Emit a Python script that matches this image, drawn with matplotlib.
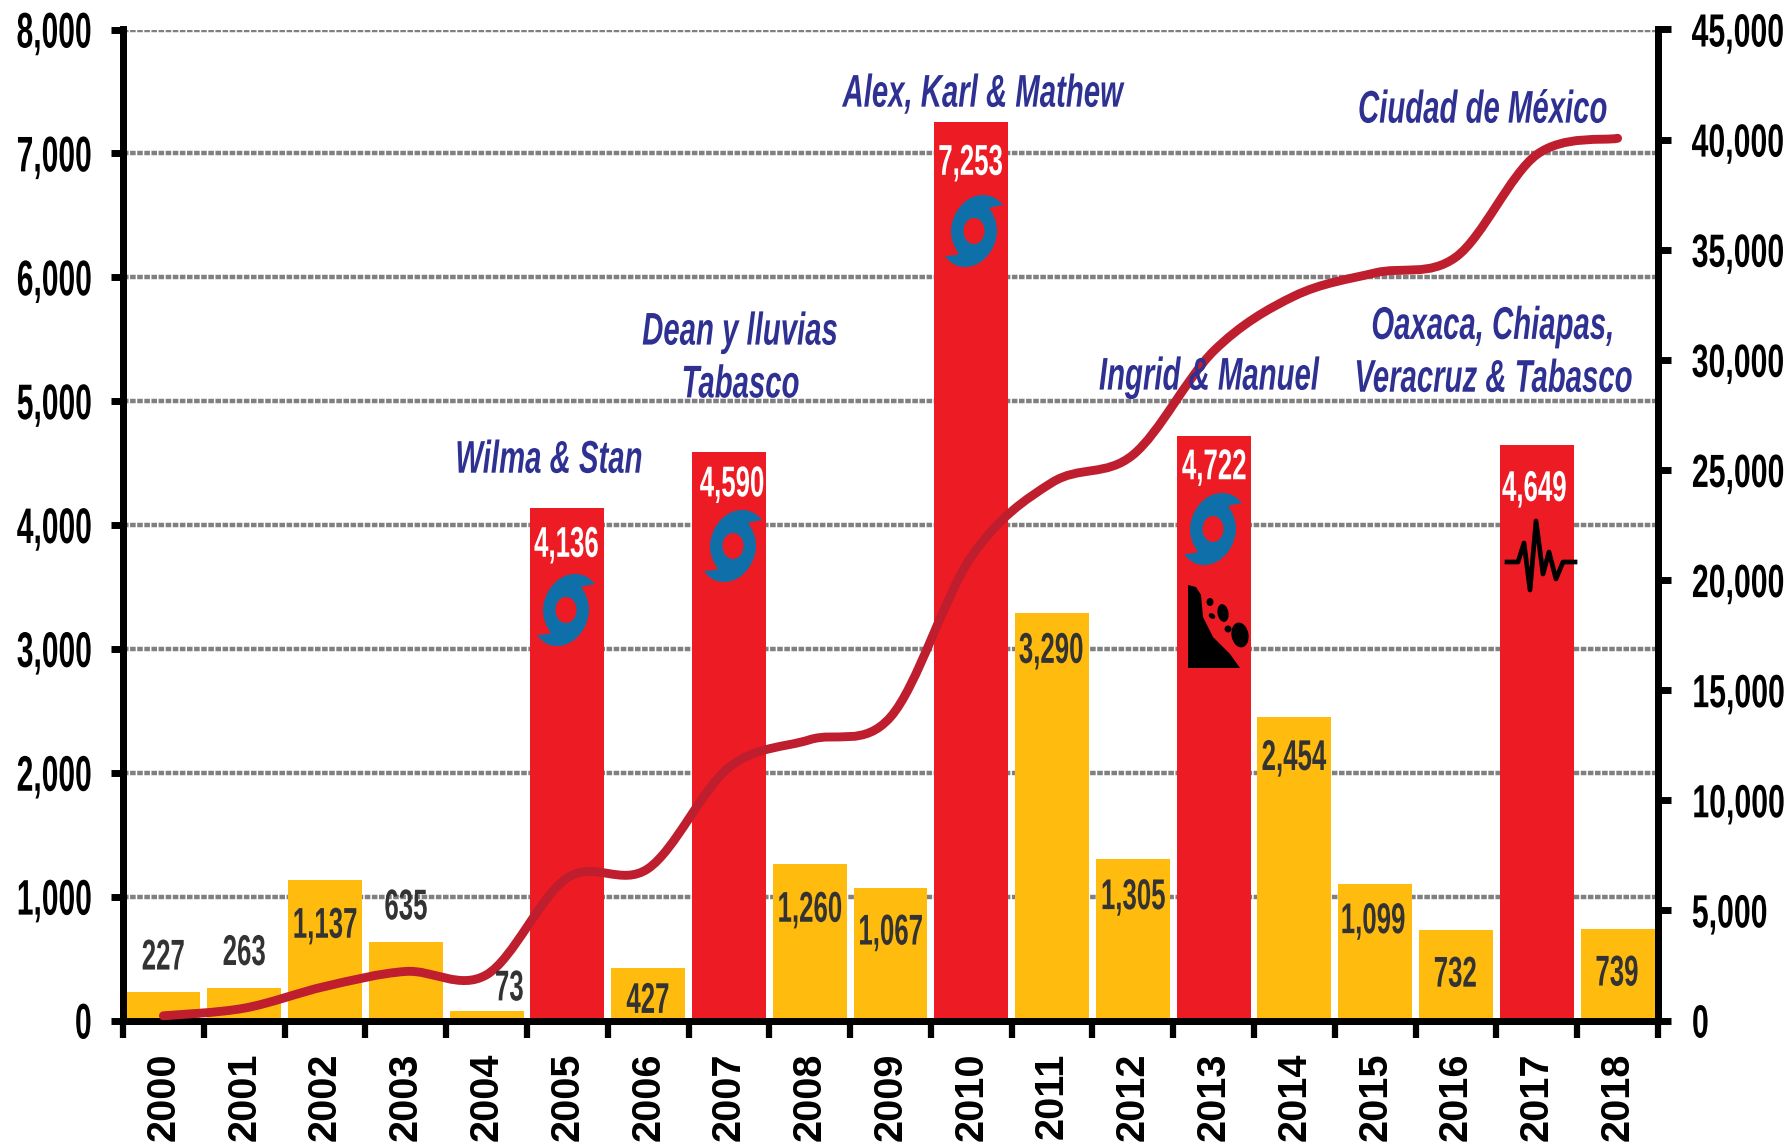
import numpy as np
import matplotlib
matplotlib.use('Agg')
import matplotlib.pyplot as plt
from matplotlib.patches import Ellipse, PathPatch, Polygon
from matplotlib.path import Path
from matplotlib.patheffects import AbstractPathEffect
from matplotlib.transforms import Affine2D

years = list(range(2000, 2019))
damages = [227, 263, 1137, 635, 73, 4136, 427, 4590, 1260, 1067, 7253, 3290, 1305, 4722, 2454, 1099, 732, 4649, 739]
cumulative = [213, 560, 1546, 2228, 2078, 6480, 6900, 11490, 12750, 13780, 21060, 24430, 25680, 30400, 32900, 33950, 34670, 39320, 40060]
big_years = [2005, 2007, 2010, 2013, 2017]

# where the value labels sit (bar index, left axis units)
label_x = [0, 1, 2, 3, 4.28, 4.99, 6, 7.04, 8, 9, 9.99, 10.99, 12, 13.01, 13.99, 14.97, 15.99, 16.97, 17.99]
label_y = [500, 537, 757, 905, 251, 3832, 150, 4320, 886, 702, 6916, 2976, 988, 4458, 2111, 794, 362, 4283, 371]

events = ['Wilma & Stan', 'Dean y lluvias\nTabasco', 'Alex, Karl & Mathew', 'Ingrid & Manuel',
          'Ciudad de México', 'Oaxaca, Chiapas,\nVeracruz & Tabasco']
event_x = [4.77, 7.14, 10.14, 12.94, 16.33, 16.46]
event_y = [4519, 5340, 7474, 5190, 7345, 5386]

left_ticks = [0, 1000, 2000, 3000, 4000, 5000, 6000, 7000, 8000]
right_ticks = [0, 5000, 10000, 15000, 20000, 25000, 30000, 35000, 40000, 45000]

GOLD = '#FFBC0F'
RED = '#ED1C24'
LINE = '#BE1E2D'
NAVY = '#2E3192'
BLUE = '#0F6FA8'


class Squeeze(AbstractPathEffect):
    # the original lettering is much narrower than any installed font
    def __init__(self, sx, anchor='center'):
        super().__init__()
        self.sx = sx
        self.anchor = anchor

    def draw_path(self, renderer, gc, tpath, affine, rgbFace=None):
        box = tpath.get_extents()
        x0 = {'left': box.x0, 'center': (box.x0 + box.x1) / 2, 'right': box.x1}[self.anchor]
        squeeze = Affine2D().translate(-x0, 0).scale(self.sx, 1).translate(x0, 0)
        renderer.draw_path(gc, tpath, squeeze + affine, rgbFace)


fig = plt.figure(figsize=(17.87, 11.46), dpi=100)
ax = fig.add_axes([123 / 1787, 1 - 1020.5 / 1146, (1658 - 123) / 1787, (1020.5 - 29.5) / 1146])
ax2 = ax.twinx()
ax.set_zorder(1)
ax2.set_zorder(2)

x = np.arange(len(years))
colors = [RED if y in big_years else GOLD for y in years]
ax.bar(x, damages, width=0.915, color=colors, zorder=3)
ax.set_xlim(-0.5, 18.5)
ax.set_ylim(0, 8000)
ax2.set_ylim(0, 45000)

ax.set_axisbelow(True)
ax.yaxis.grid(True, color='#808080', lw=3.2, linestyle=(0, (1.25, 0.35)))
ax.xaxis.grid(False)

# smoothed line, same bezier handles a spreadsheet uses
pts = np.column_stack([x, cumulative]).astype(float)
verts = [pts[0]]
codes = [Path.MOVETO]
for i in range(len(pts) - 1):
    p0 = pts[max(i - 1, 0)]
    p3 = pts[min(i + 2, len(pts) - 1)]
    verts += [pts[i] + (pts[i + 1] - p0) / 6, pts[i + 1] - (p3 - pts[i]) / 6, pts[i + 1]]
    codes += [Path.CURVE4] * 3
ax2.add_patch(PathPatch(Path(verts, codes), fc='none', ec=LINE, lw=6.4, capstyle='round', joinstyle='round', zorder=4))

for sp in ['left', 'right', 'bottom']:
    ax.spines[sp].set_linewidth(5)
    ax2.spines[sp].set_linewidth(5)
ax.spines['top'].set_visible(False)
ax2.spines['top'].set_visible(False)

# ticks at the bar edges, year labels at the bar centres
ax.set_xticks(np.arange(-0.5, 19, 1))
ax.set_xticklabels([])
ax.tick_params(axis='x', which='major', length=12, width=4.5, color='black')
ax.set_xticks(x, minor=True)
ax.set_xticklabels([str(y) for y in years], minor=True, rotation=90, fontsize=28.5,
                   fontweight='bold', fontfamily='Liberation Sans')
ax.tick_params(axis='x', which='minor', length=0, pad=23)

ax.set_yticks(left_ticks)
ax.set_yticklabels([f'{v:,}' for v in left_ticks], fontsize=36, fontweight='bold', fontfamily='Liberation Sans')
ax.tick_params(axis='y', length=9, width=5, pad=13)
for t in ax.get_yticklabels():
    t.set_path_effects([Squeeze(0.6, 'right')])

ax2.set_yticks(right_ticks)
ax2.set_yticklabels([f'{v:,}' for v in right_ticks], fontsize=33.5, fontweight='bold', fontfamily='Liberation Sans')
ax2.tick_params(axis='y', length=9, width=5, pad=15)
for t in ax2.get_yticklabels():
    t.set_path_effects([Squeeze(0.65, 'left')])

for lx, ly, v, y in zip(label_x, label_y, damages, years):
    c = 'white' if y in big_years else '#333333'
    t = ax2.text(lx, ly, f'{v:,}', transform=ax.transData, ha='center', va='center', color=c,
                 fontsize=31, fontweight='bold', family='Liberation Sans', zorder=6)
    t.set_path_effects([Squeeze(0.6)])

for ex, ey, s in zip(event_x, event_y, events):
    t = ax2.text(ex, ey, s, transform=ax.transData, ha='center', va='center', color=NAVY, fontsize=33,
                 fontweight='bold', fontstyle='italic', family='Liberation Sans', linespacing=1.26,
                 multialignment='center', zorder=6)
    t.set_path_effects([Squeeze(0.64)])


def px(xp, yp):
    # icon anchor given in reference pixels
    return Affine2D().translate(xp, 1146 - yp)


def hurricane(xp, yp):
    v = [(29, 26), (23, 33), (17, 36), (9, 36), (-10, 36), (-23, 16), (-23, 0), (-23, -9), (-20, -16), (-15, -23),
         (-18, -24), (-24, -25), (-29, -25), (-23, -33), (-17, -36), (-9, -36), (10, -36), (23, -16), (23, 0),
         (23, 9), (20, 16), (15, 23), (18, 24), (24, 25), (29, 26)]
    c = [Path.MOVETO] + [Path.CURVE4] * (len(v) - 1)
    ax2.add_patch(PathPatch(Path(v, c), fc=BLUE, ec='none', transform=px(xp, yp), zorder=5))
    ax2.add_patch(Ellipse((0, 0), 21, 26, fc=RED, ec='none', transform=px(xp, yp), zorder=5))


for cx, cy in [(566, 610), (733, 546), (974, 231), (1213, 529)]:
    hurricane(cx, cy)

# landslide icon on the 2013 bar
slope = [(0, 83), (8, 81), (13, 73), (15, 51), (25, 31), (35, 21), (42, 14), (52, 0), (0, 0)]
ax2.add_patch(Polygon(slope, closed=True, fc='black', ec='none', transform=px(1188, 668), zorder=5))
rocks = [(22, 66, 7, 8, 0), (35, 55, 11, 18, 10), (24, 52, 7, 5, -30), (40, 39, 7, 7, 0), (52, 33, 17, 25, 10)]
for rx, ry, rw, rh, ang in rocks:
    ax2.add_patch(Ellipse((rx, ry), rw, rh, angle=ang, fc='black', ec='none', transform=px(1188, 668), zorder=5))

# seismograph on the 2017 bar
trace = [(0, 0), (11, 0), (17, 19), (23, -28), (29, 41), (36, -12), (42, 10), (49, -17), (56, 0), (68, 0)]
ax2.plot(*zip(*trace), color='black', lw=3.4, transform=px(1507, 562), solid_joinstyle='round', zorder=5)

fig.savefig('out.png', dpi=100)
